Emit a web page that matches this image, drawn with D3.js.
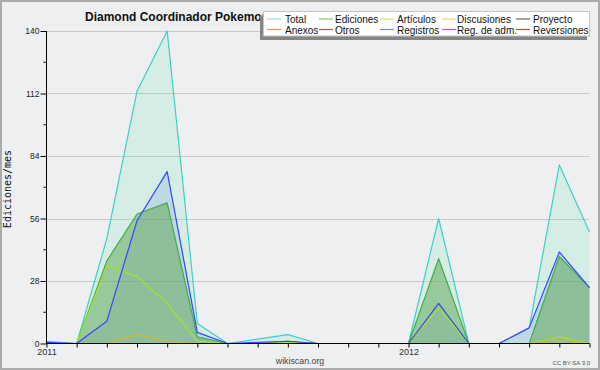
<!DOCTYPE html>
<html><head><meta charset="utf-8">
<script src="https://cdn.jsdelivr.net/npm/d3@7"></script>
<style>body{margin:0;background:#eeeff0}svg{display:block}</style>
</head><body>
<script>
// Months Jan 2011 .. Jul 2012
const months = ["2011-01","2011-02","2011-03","2011-04","2011-05","2011-06","2011-07","2011-08","2011-09","2011-10","2011-11","2011-12","2012-01","2012-02","2012-03","2012-04","2012-05","2012-06","2012-07"];
const total       = [1, 0, 47, 113, 140, 9, 0, 2, 4, 0, 0, 0, 0, 56, 0, 0, 7, 80, 50];
const ediciones   = [0, 0, 37, 58, 63, 3, 0, 0, 1, 0, 0, 0, 0, 38, 0, 0, 0, 39, 25];
const registros   = [0.5, 0, 10, 55, 77, 5, 0, 0.5, 1, 0, 0, 0, 0, 18, 0, 0, 7, 41, 25];
const articulos   = [0, 0, 35, 30, 18, 1, 0, 0, 0.5, 0, 0, 0, 0, 16, 0, 0, 0, 3, 0];
const discusiones = [0, 0, 0, 4, 1, 0, 0, 0, 0, 0, 0, 0, 0, 0, 0, 0, 0, 1, 0];
const yTicks = [0, 28, 56, 84, 112, 140];
const yMinorTicks = [14, 42, 70, 98, 126];
const xLabels = {0: "2011", 12: "2012"};
const legendRow1 = ["Total", "Ediciones", "Artículos", "Discusiones", "Proyecto"];
const legendRow2 = ["Anexos", "Otros", "Registros", "Reg. de adm.", "Reversiones"];
const legendColors1 = ["#8fe0dc", "#7acb7a", "#c8ec5c", "#ffcf66", "#666666"];
const legendColors2 = ["#ff8a4c", "#9a48ee", "#7c7cff", "#d046ee", "#ee3030"];
const title = "Diamond Coordinador Pokemon";

const W = 600, H = 370;
const svg = d3.select("body").append("svg").attr("width", W).attr("height", H);
svg.append("rect").attr("x",1).attr("y",1).attr("width",W-2).attr("height",H-2)
  .attr("fill","#eeeff0").attr("stroke","#ababab").attr("stroke-width",2);

const x = d3.scaleLinear().domain([0, months.length-1]).range([46.5, 589.5]);
const y = d3.scaleLinear().domain([0, 140]).range([343.5, 31]);

// grid
svg.append("g").selectAll("line").data(yTicks.slice(1)).join("line")
  .attr("x1", 46.5).attr("x2", 589.5).attr("y1", d=>Math.round(y(d))+0.5).attr("y2", d=>Math.round(y(d))+0.5)
  .attr("stroke","#c9c9c9").attr("stroke-width",1);

const area = data => d3.area().x((d,i)=>x(i)).y0(y(0)).y1(d=>y(d))(data);
const line = data => d3.line().x((d,i)=>x(i)).y(d=>y(d))(data);

svg.append("path").attr("d", area(total)).attr("fill","rgb(120,230,190)").attr("fill-opacity",0.2);
svg.append("path").attr("d", area(registros)).attr("fill","rgb(60,110,220)").attr("fill-opacity",0.15);
svg.append("path").attr("d", area(ediciones)).attr("fill","rgb(90,165,80)").attr("fill-opacity",0.5);

const lines = [
  [total, "#3ecfc6"],
  [ediciones, "#3fae48"],
  [articulos, "#a8e028"],
  [discusiones, "#dcb628"],
  [registros, "#3446ff"]
];
lines.forEach(([d,c]) => svg.append("path").attr("d", line(d)).attr("fill","none")
  .attr("stroke", c).attr("stroke-width", 1.2).attr("stroke-linejoin","round"));

// axes
const xAxis = d3.axisBottom(x).tickValues(d3.range(months.length)).tickSize(4).tickPadding(3)
  .tickFormat(i => xLabels[i] || "");
const gx = svg.append("g").attr("transform", `translate(0,${y(0)})`).call(xAxis);
gx.select(".domain").attr("d", `M46.5,0H589.5`).attr("stroke","#000");
gx.selectAll(".tick line").attr("stroke","#000");
gx.selectAll("text").attr("font-family","Liberation Sans, Arial, sans-serif").attr("font-size","9px").attr("fill","#333").attr("dy","0.55em");

const yAxis = d3.axisLeft(y).tickValues(yTicks).tickSize(6).tickPadding(1);
const gy = svg.append("g").attr("transform", `translate(46.5,0)`).call(yAxis);
gy.select(".domain").attr("d", `M0,${y(140)}V${y(0)}`).attr("stroke","#000");
gy.selectAll(".tick line").attr("stroke","#000");
gy.selectAll("text").attr("font-family","Liberation Sans, Arial, sans-serif").attr("font-size","8.5px").attr("fill","#222");
svg.append("g").attr("transform", `translate(46.5,0)`).selectAll("line").data(yMinorTicks).join("line")
  .attr("x1",-3).attr("x2",0).attr("y1",d=>y(d)).attr("y2",d=>y(d)).attr("stroke","#000");

// y label
svg.append("text").attr("transform","translate(11,189) rotate(-90)").attr("text-anchor","middle")
  .attr("font-family","DejaVu Sans Mono, monospace").attr("font-size","10px").attr("fill","#111").text("Ediciones/mes");

// title
svg.append("text").attr("x",85).attr("y",21).attr("font-family","Liberation Sans, Arial, sans-serif")
  .attr("font-weight","bold").attr("font-size","12px").attr("fill","#111").text(title);

// legend
const lg = svg.append("g");
lg.append("rect").attr("x",260).attr("y",15.5).attr("width",327).attr("height",24.5).attr("fill","#858585");
lg.append("rect").attr("x",263.5).attr("y",11.5).attr("width",326).attr("height",24.5).attr("fill","#fff").attr("stroke","#c4c4c4");
const colLine = [267, 319, 380, 442, 516];
const colText = [285, 335, 397, 457, 533];
[[legendRow1, legendColors1, 19.5],[legendRow2, legendColors2, 30]].forEach(([labels, cols, yy]) => {
  labels.forEach((t,i) => {
    lg.append("line").attr("x1",colLine[i]).attr("x2",colLine[i]+14).attr("y1",yy-0.5).attr("y2",yy-0.5)
      .attr("stroke",cols[i]).attr("stroke-width",1.2);
    lg.append("text").attr("x",colText[i]).attr("y",yy+3.5).attr("font-family","Liberation Sans, Arial, sans-serif")
      .attr("font-size","10px").attr("fill","#111").text(t);
  });
});

// footer
svg.append("text").attr("x",300).attr("y",364).attr("text-anchor","middle").attr("font-family","Liberation Sans, Arial, sans-serif")
  .attr("font-size","8.8px").attr("fill","#444").text("wikiscan.org");
svg.append("text").attr("x",590).attr("y",365).attr("text-anchor","end").attr("font-family","Liberation Sans, Arial, sans-serif")
  .attr("font-size","6px").attr("fill","#555").text("CC BY-SA 3.0");
</script>
</body></html>
